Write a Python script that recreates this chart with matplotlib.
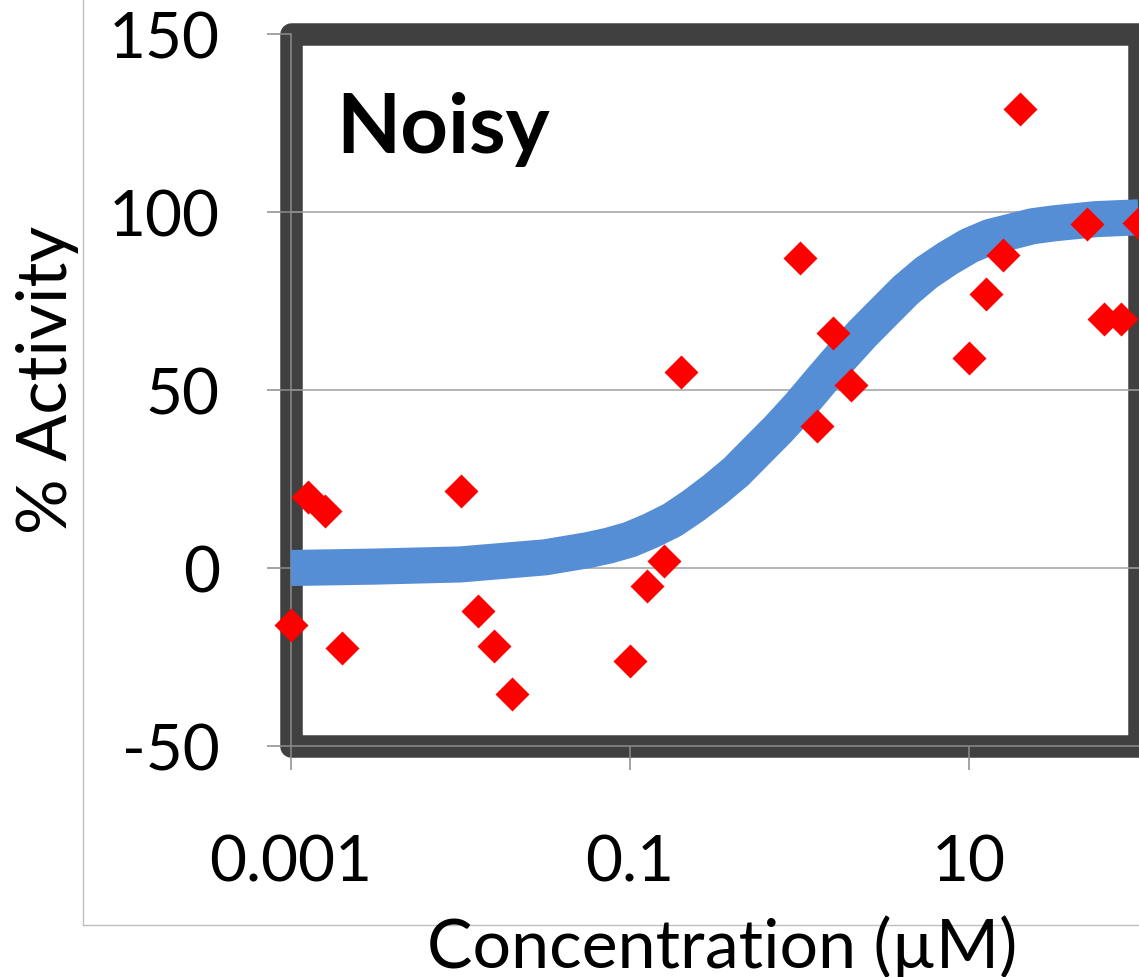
import numpy as np
import matplotlib.pyplot as plt
from matplotlib.patches import Rectangle
from matplotlib.lines import Line2D

plt.rcParams['font.family'] = ['Lato', 'DejaVu Sans']

# measured responses (red diamonds)
conc = [0.001, 0.00126, 0.00158, 0.002,
        0.01, 0.0126, 0.0158, 0.02,
        0.1, 0.126, 0.158, 0.2,
        1.0, 1.26, 1.58, 2.0,
        10, 12.6, 15.8, 20,
        50, 63, 79, 100]
activity = [-16, 20, 16, -22.5,
            21.5, -12, -22, -35.5,
            -26, -5, 2, 55,
            87, 40, 66, 51.5,
            59, 77, 88, 129,
            96.5, 70, 70, 97]

# fitted dose-response curve (blue)
fit_conc = [0.001, 0.00316, 0.01, 0.0316, 0.0562, 0.075, 0.1, 0.133, 0.178,
            0.237, 0.316, 0.422, 0.562, 0.75, 1.0, 1.33, 1.78, 2.37, 3.16,
            4.22, 5.62, 7.5, 10, 13.3, 17.8, 23.7, 31.6, 56.2, 100]
fit_activity = [0, 0.4, 1, 3, 5, 6.3, 8, 10.5, 13.5,
                17.5, 22, 27, 33, 39, 45.5, 52.5, 59.5, 66, 72,
                78, 83, 87, 90.5, 93, 94.5, 96, 96.8, 98, 98.5]

xticks = [0.001, 0.1, 10]
xticklabels = ['0.001', '0.1', '10']
yticks = [-50, 0, 50, 100, 150]
yticklabels = ['-50', '0', '50', '100', '150']

W, H = 1139, 978
fig = plt.figure(figsize=(W / 100, H / 100), dpi=100)
ax = fig.add_axes([291 / W, (H - 747) / H, 847.5 / W, 712 / H])

ax.set_xscale('log')
ax.set_xlim(0.001, 100)
ax.set_ylim(-50, 150)

# heavy dark frame around the plot area
frame = Rectangle((0, 0), 1, 1, transform=ax.transAxes, fill=False,
                  lw=16.2, ec='#404040', joinstyle='round',
                  clip_on=False, zorder=1)
ax.add_patch(frame)

ax.set_xticks(xticks)
ax.set_xticklabels(xticklabels)
ax.xaxis.set_minor_locator(plt.NullLocator())
ax.set_yticks(yticks)
ax.set_yticklabels(yticklabels)

ax.tick_params(axis='both', direction='out', length=17.3, width=1.1,
               color='#8c8c8c', labelsize=46, labelcolor='black')
ax.tick_params(axis='y', pad=34)
ax.tick_params(axis='x', pad=46)

ax.yaxis.grid(True, color='#a0a0a0', lw=1.1, zorder=1.5)
ax.set_axisbelow(False)
for t in ax.yaxis.get_major_ticks():
    if t.get_loc() in (yticks[0], yticks[-1]):
        t.gridline.set_visible(False)

for side in ('top', 'right'):
    ax.spines[side].set_visible(False)
for side in ('left', 'bottom'):
    ax.spines[side].set_color('#8c8c8c')
    ax.spines[side].set_linewidth(1.1)
    ax.spines[side].set_zorder(2.5)

ax.plot(fit_conc, fit_activity, color='#558ed5', lw=26,
        solid_capstyle='butt', solid_joinstyle='round', zorder=3, clip_on=False)
ax.plot(conc, activity, linestyle='none', marker='D', ms=17.8,
        color='#ff0000', mec='none', zorder=4, clip_on=False)

fig.text(336 / W, 1 - 153 / H, 'Noisy', fontsize=60, fontweight='bold',
         ha='left', va='baseline')

# thin outer chart border
fig.add_artist(Line2D([83 / W, 83 / W], [1, 1 - 926 / H], color='#c0c0c0', lw=1.0))
fig.add_artist(Line2D([83 / W, 1], [1 - 926 / H, 1 - 926 / H], color='#c0c0c0', lw=1.0))

fig.text(48 / W, 1 - 380 / H, '% Activity', fontsize=50, rotation=90,
         ha='center', va='center')
fig.text(722 / W, 1 - 968 / H, 'Concentration (\u00b5M)', fontsize=49,
         ha='center', va='baseline', zorder=5)

fig.savefig('out.png', dpi=100)
